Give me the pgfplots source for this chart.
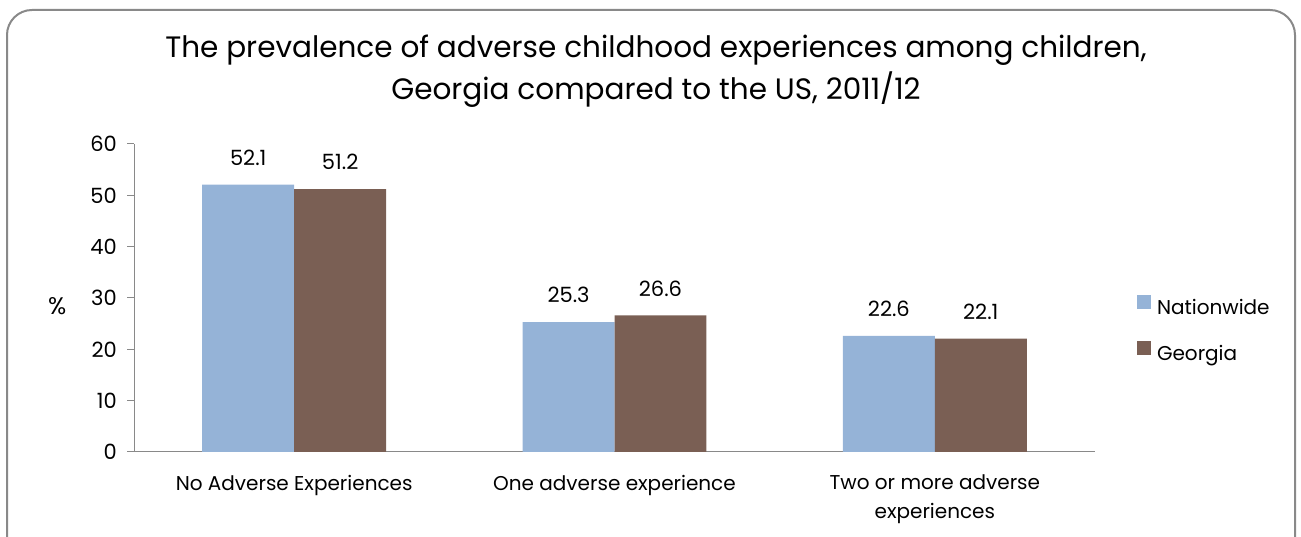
\documentclass[border=0pt]{standalone}
\usepackage{fontspec}
\setmainfont{Poppins}
\usepackage{pgfplots}
\pgfplotsset{compat=1.18}
\definecolor{natblue}{HTML}{95B3D7}
\definecolor{gabrown}{HTML}{7A5F54}
\definecolor{axgray}{HTML}{898989}
\begin{document}
\begin{tikzpicture}[x=1pt,y=1pt]
\useasboundingbox (0,0) rectangle (1301,537);
\draw[axgray, line width=2pt, rounded corners=25pt] (7,527) rectangle (1295,-40);
\node[anchor=base, inner sep=0pt, font=\fontsize{29.5}{35}\selectfont] at (656,479) {The prevalence of adverse childhood experiences among children,};
\node[anchor=base, inner sep=0pt, font=\fontsize{29.5}{35}\selectfont] at (656,437) {Georgia compared to the US, 2011/12};
\begin{axis}[
  at={(134pt,85pt)}, anchor=south west,
  scale only axis, width=961pt, height=308pt,
  xmin=-0.5, xmax=2.5, ymin=0, ymax=60,
  ytick={0,10,20,30,40,50,60},
  xtick={0,1,2},
  xticklabels={No Adverse Experiences, One adverse experience, {Two or more adverse\\experiences}},
  axis x line*=bottom, axis y line*=left,
  axis line style={axgray, line width=1pt},
  tick align=outside, major tick length=7pt,
  y tick style={axgray, line width=1pt},
  x tick style={draw=none},
  /pgf/number format/assume math mode=true,
  yticklabel style={font=\fontsize{21}{24}\selectfont, inner sep=0pt, xshift=-10pt},
  xticklabel style={font=\fontsize{20}{29}\selectfont, align=center, anchor=north, inner sep=0pt, yshift=-16pt},
  ylabel={\%},
  ylabel style={at={(axis description cs:-0.080,0.474)}, rotate=-90, anchor=center, font=\fontsize{24}{28}\selectfont},
  ybar, bar width=0.287,
  nodes near coords={\pgfmathprintnumber[fixed, precision=1, fixed zerofill]{\pgfplotspointmeta}},
  every node near coord/.append style={font=\fontsize{21}{24}\selectfont, inner sep=0pt, anchor=south, yshift=19pt, black},
  legend style={at={(axis description cs:1.0437,0.395)}, anchor=west, draw=none, fill=none,
    inner sep=0pt, outer sep=0pt, font=\fontsize{20}{24}\selectfont, row sep=22pt, column sep=6pt,
    nodes={inner sep=0pt, text height=15pt, text depth=5pt}},
  legend cell align=left,
]
\addplot[fill=natblue, draw=none, bar shift=-0.1435,
  legend image code/.code={\fill[natblue] (0pt,0pt) rectangle (14pt,14pt);}]
  coordinates {(0,52.1) (1,25.3) (2,22.6)};
\addlegendentry{Nationwide}
\addplot[fill=gabrown, draw=none, bar shift=0.1435,
  legend image code/.code={\fill[gabrown] (0pt,0pt) rectangle (14pt,14pt);}]
  coordinates {(0,51.2) (1,26.6) (2,22.1)};
\addlegendentry{Georgia}
\end{axis}
\end{tikzpicture}
\end{document}
